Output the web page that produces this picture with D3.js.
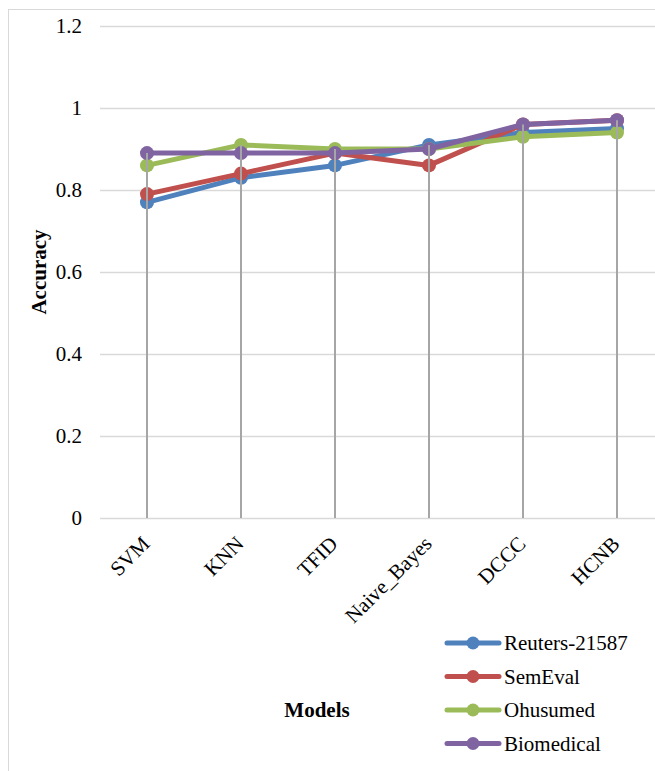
<!DOCTYPE html>
<html>
<head>
<meta charset="utf-8">
<script src="https://cdn.jsdelivr.net/npm/d3@7"></script>
<style>
  html, body { margin: 0; padding: 0; background: #fff; }
  svg { display: block; }
  text { font-family: "Liberation Serif", "Times New Roman", serif; fill: #000; }
</style>
</head>
<body>
<script>
// Model accuracy across four datasets
const models = ["SVM", "KNN", "TFID", "Naive_Bayes", "DCCC", "HCNB"];
const reuters = [0.77, 0.83, 0.86, 0.91, 0.94, 0.95];
const semeval = [0.79, 0.84, 0.89, 0.86, 0.96, 0.97];
const ohsumed = [0.86, 0.91, 0.90, 0.90, 0.93, 0.94];
const biomedical = [0.89, 0.89, 0.89, 0.90, 0.96, 0.97];
const seriesNames = ["Reuters-21587", "SemEval", "Ohusumed", "Biomedical"];
const seriesColors = ["#4f81bd", "#c0504d", "#9bbb59", "#8064a2"];
const yTicks = [0, 0.2, 0.4, 0.6, 0.8, 1, 1.2];

const series = [reuters, semeval, ohsumed, biomedical].map((vals, i) => ({
  name: seriesNames[i], color: seriesColors[i], values: vals
}));

const W = 655, H = 771;
const FS = 21;
const svg = d3.select("body").append("svg").attr("width", W).attr("height", H);

// chart frame
svg.append("rect").attr("x", 8.5).attr("y", 9.5).attr("width", W + 20).attr("height", H + 20)
  .attr("fill", "#fff").attr("stroke", "#d9d9d9").attr("stroke-width", 1);

const plot = { left: 100, right: 664, top: 26, bottom: 518 };

const x = d3.scalePoint().domain(models).range([plot.left, plot.right]).padding(0.5);
const y = d3.scaleLinear().domain([0, 1.2]).range([plot.bottom, plot.top]);

// horizontal gridlines
svg.append("g").selectAll("line").data(yTicks).join("line")
  .attr("x1", plot.left).attr("x2", plot.right)
  .attr("y1", d => Math.round(y(d)) + 0.5).attr("y2", d => Math.round(y(d)) + 0.5)
  .attr("stroke", "#d9d9d9").attr("stroke-width", 1.3);

// y tick labels
svg.append("g").selectAll("text").data(yTicks).join("text")
  .attr("x", 82).attr("y", d => y(d)).attr("dy", "0.35em")
  .attr("text-anchor", "end").attr("font-size", FS)
  .text(d => d3.format("~g")(d));

// y axis title
svg.append("text")
  .attr("transform", `translate(46,${(plot.top + plot.bottom) / 2}) rotate(-90)`)
  .attr("text-anchor", "middle").attr("font-size", FS).attr("font-weight", "bold")
  .text("Accuracy");

// series lines and markers
const line = d3.line().x((d, i) => x(models[i])).y(d => y(d));
const sg = svg.append("g");
series.forEach(s => {
  sg.append("path").datum(s.values).attr("d", line)
    .attr("fill", "none").attr("stroke", s.color).attr("stroke-width", 5)
    .attr("stroke-linejoin", "round").attr("stroke-linecap", "round");
  sg.selectAll(null).data(s.values).join("circle")
    .attr("cx", (d, i) => x(models[i])).attr("cy", d => y(d)).attr("r", 7)
    .attr("fill", s.color);
});

// drop lines from the highest point of each category to the axis
const maxByModel = models.map((m, i) => d3.max(series, s => s.values[i]));
svg.append("g").selectAll("line").data(models).join("line")
  .attr("x1", d => x(d)).attr("x2", d => x(d))
  .attr("y1", (d, i) => y(maxByModel[i])).attr("y2", plot.bottom)
  .attr("stroke", "#a6a6a6").attr("stroke-width", 2);

// x tick labels, rotated
svg.append("g").selectAll("text").data(models).join("text")
  .attr("transform", d => `translate(${x(d) + 4},${plot.bottom + 27}) rotate(-45)`)
  .attr("text-anchor", "end").attr("font-size", FS)
  .text(d => d);

// x axis title
svg.append("text").attr("x", 317).attr("y", 717)
  .attr("text-anchor", "middle").attr("font-size", FS).attr("font-weight", "bold")
  .text("Models");

// legend
const lg = svg.append("g");
series.forEach((s, i) => {
  const cy = 643 + i * 33.5;
  lg.append("line").attr("x1", 447).attr("x2", 499).attr("y1", cy).attr("y2", cy)
    .attr("stroke", s.color).attr("stroke-width", 5).attr("stroke-linecap", "round");
  lg.append("circle").attr("cx", 473).attr("cy", cy).attr("r", 6.5).attr("fill", s.color);
  lg.append("text").attr("x", 504).attr("y", cy).attr("dy", "0.35em")
    .attr("font-size", FS).text(s.name);
});
</script>
</body>
</html>
